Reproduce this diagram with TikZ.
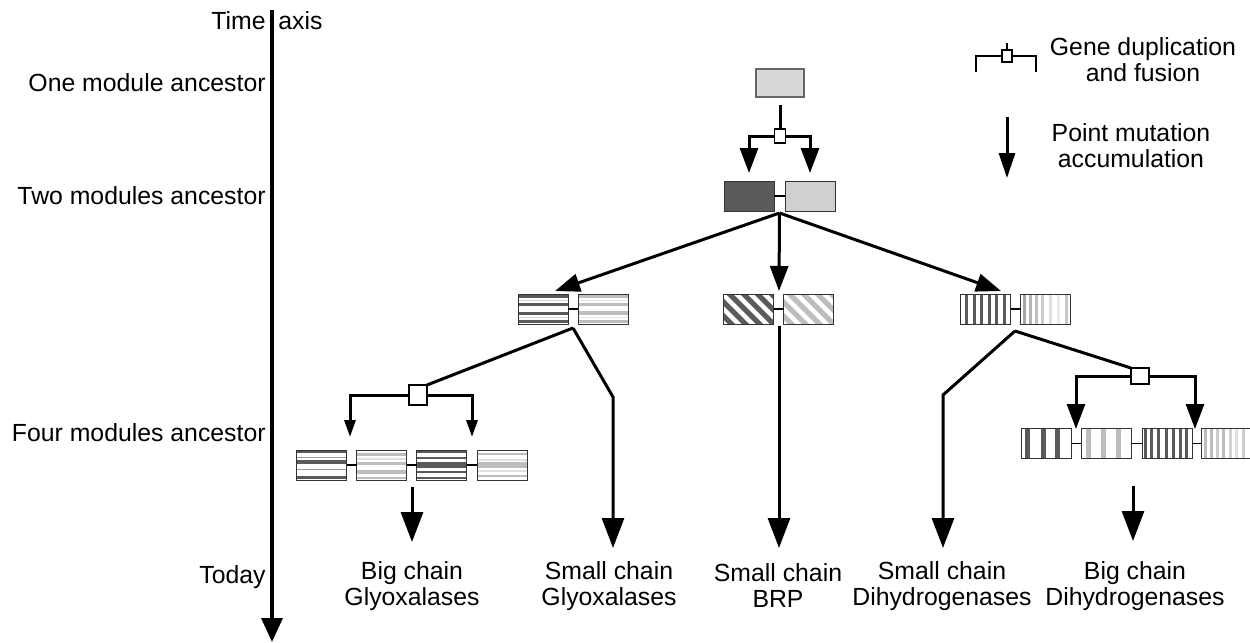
\documentclass[tikz,border=0pt]{standalone}
\usepackage{fontspec}
\setmainfont{Liberation Sans}
\usetikzlibrary{arrows.meta}
\definecolor{dk}{HTML}{5A5A5A}
\definecolor{lg}{HTML}{BDBDBD}
\definecolor{onefill}{HTML}{D8D8D8}
\definecolor{twolight}{HTML}{D0D0D0}
\tikzset{
  conn/.style={line width=1.5pt},
  arr/.style={conn,-{Triangle[width=9pt,length=12.5pt]}},
  barr/.style={conn,-{Triangle[width=11pt,length=15pt]}},
  sarr/.style={conn,-{Triangle[width=5.5pt,length=8.5pt]}},
  link/.style={line width=0.8pt},
  mod/.style={draw=black!80,line width=0.5pt,minimum width=25pt,minimum height=15pt,inner sep=0pt,outer sep=0pt,fill=white},
  dupbox/.style={draw=black,fill=white,line width=0.8pt,inner sep=0pt,outer sep=0pt},
  lbl/.style={font=\fontsize{12.4}{13}\selectfont,align=center,inner sep=0pt},
  hs/.style={path picture={\begin{scope}[shift={(path picture bounding box.center)}]
     \foreach \p/\w/\c in {#1}{\fill[fill=\c] (-30,\p-\w/2) rectangle (30,\p+\w/2);}\end{scope}}},
  vs/.style={path picture={\begin{scope}[shift={(path picture bounding box.center)}]
     \foreach \p/\w/\c in {#1}{\fill[fill=\c] (\p-\w/2,-20) rectangle (\p+\w/2,20);}\end{scope}}},
  ds/.style={path picture={\begin{scope}[shift={(path picture bounding box.center)}]
     \foreach \p in {-66,-52,...,40}{\draw[draw=#1,line width=2.6pt] (\p,-20) -- (\p+40,20);}\end{scope}}},
}
\begin{document}
\begin{tikzpicture}[x=0.5pt,y=-0.5pt]
\useasboundingbox (0,0) rectangle (1250,643);

% time axis
\coordinate (axtop) at (272,10);
\coordinate (axbot) at (272,642);
\draw[conn,line width=1.7pt,-{Triangle[width=10.5pt,length=12pt]}] (axtop) -- (axbot);
\node[lbl,anchor=east] (time) at (266,21) {Time};
\node[lbl,anchor=west] (axis) at (278,21) {axis};
\node[lbl,anchor=east] (l1) at (266,83) {One module ancestor};
\node[lbl,anchor=east] (l2) at (266,196) {Two modules ancestor};
\node[lbl,anchor=east] (l4) at (266,433) {Four modules ancestor};
\node[lbl,anchor=east] (l5) at (266,577) {Today};

% legend
\node[dupbox,minimum width=5pt,minimum height=6pt] (lgsq) at (1007,56) {};
\coordinate (lgstem) at (1007,43);
\coordinate (lgL) at (976,72);
\coordinate (lgR) at (1036,72);
\draw[line width=1pt] (lgstem) -- (lgsq.north);
\draw[line width=1pt] (lgsq.west) -| (lgL);
\draw[line width=1pt] (lgsq.east) -| (lgR);
\node[lbl] (lgt1) at (1143,60) {Gene duplication\\and fusion};
\coordinate (lga1) at (1007,117);
\coordinate (lga2) at (1007,178);
\draw[conn,-{Triangle[width=8pt,length=12.5pt]}] (lga1) -- (lga2);
\node[lbl] (lgt2) at (1131,146) {Point mutation\\accumulation};

% one module ancestor
\node[mod,fill=onefill,draw=black!60,line width=1.3pt,minimum width=24pt,minimum height=14pt] (one) at (780,83) {};
\node[dupbox,minimum width=5.5pt,minimum height=7pt] (dup1) at (780,136) {};
\draw[conn] ([yshift=-4pt]one.south) -- (dup1.north);
\coordinate (t1a) at (749,173);
\coordinate (t1b) at (810,173);
\draw[arr] (dup1.west) -| (t1a);
\draw[arr] (dup1.east) -| (t1b);

% two modules ancestor
\node[mod,fill=dk] (d2) at (749,196) {};
\node[mod,fill=twolight] (w2) at (810,196) {};
\draw[link] (d2.east) -- (w2.west);
\coordinate (j2) at (779.5,213);

% level 3
\node[mod,hs={-12.5/3/dk,-4.5/3/dk,4/3/dk,12.5/3/dk,-8.5/1/black!15,8.5/1/black!15}] (hA) at (543,309) {};
\node[mod,hs={-12.5/3.5/lg,-4.5/3.5/lg,4/3.5/lg,12.5/3.5/lg,-8.5/1.5/black!10,8.5/1.5/black!10}] (hB) at (603,309) {};
\draw[link] (hA.east) -- (hB.west);
\node[mod,ds=dk] (dA) at (748.5,309) {};
\node[mod,ds=lg] (dB) at (808.5,309) {};
\draw[link] (dA.east) -- (dB.west);
\node[mod,vs={-19/3/dk,-11.5/3/dk,-4/3/dk,3.5/3/dk,11/3/dk,18.5/3/dk}] (vA) at (985.5,309) {};
\node[mod,vs={-21/3/black!35,-15/3/black!30,-9/3/black!25,-3/3/black!20,5/3/black!12,13/3/black!8,21/3/black!22}] (vB) at (1045.5,309) {};
\draw[link] (vA.east) -- (vB.west);

\coordinate (t3a) at (555,291);
\coordinate (t3b) at (779,291);
\coordinate (t3c) at (1001,291);
\draw[arr] (j2) -- (t3a);
\draw[arr] (j2) -- (t3b);
\draw[arr] (j2) -- (t3c);

% left branch (glyoxalases)
\coordinate (jL) at (573,328);
\node[dupbox,minimum width=9pt,minimum height=10pt] (dupL) at (418,395) {};
\draw[conn] (jL) -- (dupL.north east);
\coordinate (tLa) at (350,437);
\coordinate (tLb) at (472,437);
\draw[sarr] (dupL.west) -| (tLa);
\draw[sarr] (dupL.east) -| (tLb);
\node[mod,hs={-13/2.5/dk,-3/3.5/dk,4.5/1/black!40,12.5/3/dk,-8/1/black!40}] (g1) at (321.5,465) {};
\node[mod,hs={-11/3/lg,-2/3/lg,7/4/lg,13/2/lg,-6/1.5/black!12}] (g2) at (381.5,465) {};
\node[mod,hs={-13/2.5/dk,-7/1.2/dk,0/6/dk,7/1.2/dk,12.5/2/dk}] (g3) at (441.5,465) {};
\node[mod,hs={-11/2/lg,-5/1.5/black!12,0/6/lg,6/1.5/black!12,11/2/lg}] (g4) at (502,465) {};
\draw[link] (g1.east) -- (g2.west);
\draw[link] (g2.east) -- (g3.west);
\draw[link] (g3.east) -- (g4.west);
\coordinate (bg1) at (412,487);
\coordinate (bg2) at (412,542);
\draw[barr] (bg1) -- (bg2);
\node[lbl] (bgt) at (412,586) {Big chain\\Glyoxalases};

\coordinate (kL) at (613,397);
\coordinate (sg2) at (613,548);
\draw[barr] (jL) -- (kL) -- (sg2);
\node[lbl] (sgt) at (609,586) {Small chain\\Glyoxalases};

% center branch (BRP)
\coordinate (jC) at (779,326);
\coordinate (sb2) at (779,548);
\draw[barr] (jC) -- (sb2);
\node[lbl] (sbt) at (778,586) {Small chain\\BRP};

% right branch (dihydrogenases)
\coordinate (jR) at (1015,331);
\coordinate (kR) at (943,395);
\coordinate (sd2) at (943,548);
\draw[barr] (jR) -- (kR) -- (sd2);
\node[lbl] (sdt) at (942,586) {Small chain\\Dihydrogenases};

\node[dupbox,minimum width=9pt,minimum height=8pt] (dupR) at (1140,376) {};
\draw[conn] (jR) -- (dupR.north west);
\coordinate (tRa) at (1076,429);
\coordinate (tRb) at (1195,429);
\draw[arr] (dupR.west) -| (tRa);
\draw[arr] (dupR.east) -| (tRb);
\node[mod,vs={-19.5/5/dk,-3.5/5/dk,11/5/dk}] (r1) at (1046.5,443.5) {};
\node[mod,vs={-18.5/5/lg,-3.5/5/lg,11.5/5/lg}] (r2) at (1106.5,443.5) {};
\node[mod,vs={-22/3/dk,-16/3/dk,-9/3/dk,-1.5/3/dk,5.5/3/dk,12.5/3/dk,19/3/dk}] (r3) at (1167.5,443.5) {};
\node[mod,vs={-21/3/lg,-15/3/lg,-9/3/black!20,-3/3/lg,4/3/black!18,10/3/black!12,17/3/black!20}] (r4) at (1226.5,443.5) {};
\draw[link] (r1.east) -- (r2.west);
\draw[link] (r2.east) -- (r3.west);
\draw[link] (r3.east) -- (r4.west);
\coordinate (bd1) at (1133,486);
\coordinate (bd2) at (1133,541);
\draw[barr] (bd1) -- (bd2);
\node[lbl] (bdt) at (1135,586) {Big chain\\Dihydrogenases};
\end{tikzpicture}
\end{document}
